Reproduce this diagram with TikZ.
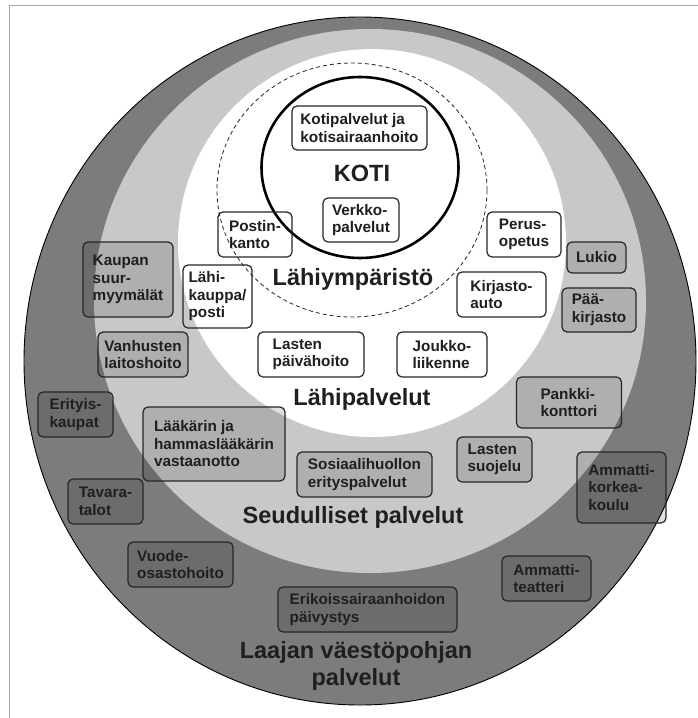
\documentclass[tikz,border=0pt]{standalone}
\usepackage{fontspec}
\setmainfont{Liberation Sans}
\usetikzlibrary{positioning}
\definecolor{darkzone}{RGB}{124, 124, 124}
\definecolor{lightzone}{RGB}{200, 200, 200}
\definecolor{boxline}{RGB}{38, 38, 38}

\begin{document}
\begin{tikzpicture}[
    x=1pt, y=-1pt,
    zone/.style={font=\fontsize{23.5}{27}\selectfont\bfseries, text=black!88, align=center},
    inbox/.style={draw=boxline, line width=1.2pt, rounded corners=5pt, align=left, inner sep=2pt,
        font=\fontsize{15.3}{17.5}\selectfont\bfseries, text=black!88},
    outbox/.style={inbox, fill=black, fill opacity=0.12, text opacity=1}
]
    \useasboundingbox (0,0) rectangle (698,718);

    % Frame (only top and left edges fall inside the picture)
    \draw[black!35, line width=0.8pt] (9,718) -- (9,5) -- (698,5);

    % Zones (outermost first)
    \filldraw[fill=darkzone, draw=black, line width=0.9pt] (360,361) ellipse [x radius=336pt, y radius=344pt];
    \fill[lightzone] (370,301) ellipse [x radius=276pt, y radius=272pt];
    \fill[white] (372,243) circle [radius=194pt];
    \draw[black!85, line width=0.8pt, dash pattern=on 4pt off 3pt] (352,190) ellipse [x radius=135pt, y radius=127pt];
    \draw[black, line width=2.6pt] (360,167.5) ellipse [x radius=98.5pt, y radius=90.5pt];

    % Zone titles
    \node[zone] (koti) at (362,173) {KOTI};
    \node[zone] (lahiymp) at (353,279) {Lähiympäristö};
    \node[zone] (lahipalv) at (362,399) {Lähipalvelut};
    \node[zone] (seutu) at (353,517) {Seudulliset palvelut};
    \node[zone] (laaja) at (356,666) {Laajan väestöpohjan\\palvelut};

    % Koti and lähiympäristö
    \node[inbox, minimum width=135pt, minimum height=44pt] (kotipalv) at (359.5,128) {Kotipalvelut ja\\kotisairaanhoito};
    \node[inbox, minimum width=76pt, minimum height=44pt] (verkko) at (361,220) {Verkko-\\palvelut};
    \node[inbox, minimum width=74pt, minimum height=45pt] (postinkanto) at (255,234.5) {Postin-\\kanto};
    \node[inbox, minimum width=69pt, minimum height=63pt] (lahikauppa) at (217.5,296.5) {Lähi-\\kauppa/\\posti};

    % Lähipalvelut
    \node[inbox, minimum width=74pt, minimum height=45pt] (perusopetus) at (524,234.5) {Perus-\\opetus};
    \node[inbox, minimum width=89pt, minimum height=45pt] (kirjastoauto) at (501.5,294.5) {Kirjasto-\\auto};
    \node[inbox, minimum width=106pt, minimum height=45pt] (lastenpaiva) at (311,354.5) {Lasten\\päivähoito};
    \node[inbox, minimum width=90pt, minimum height=45pt] (joukkol) at (442,354.5) {Joukko-\\liikenne};

    % Seudulliset palvelut
    \node[outbox, minimum width=59pt, minimum height=31pt] (lukio) at (596.5,257.5) {Lukio};
    \node[outbox, minimum width=74pt, minimum height=44pt] (paakirjasto) at (599,310) {Pää-\\kirjasto};
    \node[outbox, minimum width=90pt, minimum height=75pt] (kaupan) at (128,279.5) {Kaupan\\suur-\\myymälät};
    \node[outbox, minimum width=90pt, minimum height=45pt] (vanhusten) at (143,354.5) {Vanhusten\\laitoshoito};
    \node[outbox, minimum width=105pt, minimum height=51pt] (pankki) at (569,402.5) {Pankki-\\konttori};
    \node[outbox, minimum width=142pt, minimum height=74pt] (laakari) at (214,444) {Lääkärin ja\\hammaslääkärin\\vastaanotto};
    \node[outbox, minimum width=135pt, minimum height=45pt] (sosiaali) at (364.5,474.5) {Sosiaalihuollon\\erityspalvelut};
    \node[outbox, minimum width=75pt, minimum height=45pt] (lastensuoj) at (494.5,459.5) {Lasten\\suojelu};

    % Laajan väestöpohjan palvelut
    \node[outbox, minimum width=75pt, minimum height=45pt] (erityis) at (75.5,414.5) {Erityis-\\kaupat};
    \node[outbox, minimum width=89pt, minimum height=71pt] (amk) at (621.5,487.5) {Ammatti-\\korkea-\\koulu};
    \node[outbox, minimum width=75pt, minimum height=45pt] (tavara) at (105.5,501.5) {Tavara-\\talot};
    \node[outbox, minimum width=105pt, minimum height=45pt] (vuode) at (180.5,564.5) {Vuode-\\osastohoito};
    \node[outbox, minimum width=89pt, minimum height=45pt] (teatteri) at (546.5,578.5) {Ammatti-\\teatteri};
    \node[outbox, minimum width=179pt, minimum height=45pt] (erikois) at (367.5,609.5) {Erikoissairaanhoidon\\päivystys};

\end{tikzpicture}
\end{document}
